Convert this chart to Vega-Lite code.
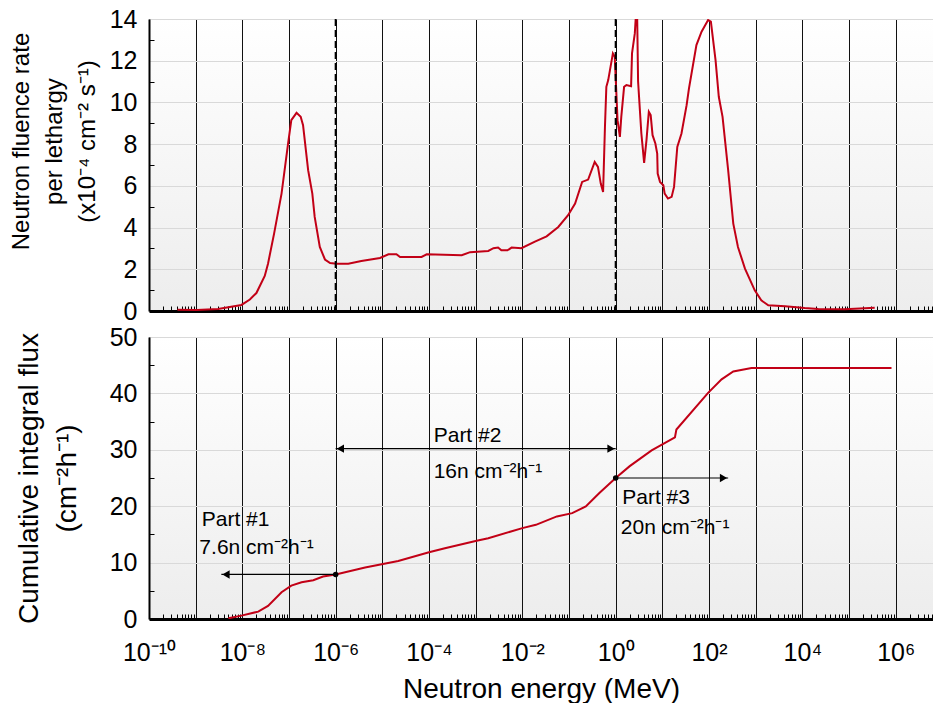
{
  "$schema": "https://vega.github.io/schema/vega-lite/v6.json",
  "padding": {"left": 9, "top": 7, "right": 0, "bottom": 0},
  "background": "white",
  "spacing": 1,
  "config": {
    "font": "Liberation Sans",
    "view": {"stroke": null, "fill": {"gradient": "linear", "x1": 0, "y1": 0, "x2": 0, "y2": 1, "stops": [{"offset": 0, "color": "#ffffff"}, {"offset": 1, "color": "#ededed"}]}},
    "axis": {"labelFont": "Liberation Sans", "titleFont": "Liberation Sans", "labelColor": "#000", "titleColor": "#000", "titleFontWeight": "normal", "domainColor": "#000", "tickColor": "#000"}
  },
  "datasets": {
    "top": [
      {"E": 4.07e-10, "v": 0.06}, {"E": 1.05e-9, "v": 0.05}, {"E": 3.02e-9, "v": 0.1}, {"E": 9.55e-9, "v": 0.29},
      {"E": 1.45e-8, "v": 0.55}, {"E": 2.0e-8, "v": 0.86}, {"E": 3.02e-8, "v": 1.68}, {"E": 3.55e-8, "v": 2.27},
      {"E": 4.79e-8, "v": 3.71}, {"E": 6.92e-8, "v": 5.63}, {"E": 9.55e-8, "v": 8.03}, {"E": 1.12e-7, "v": 9.15},
      {"E": 1.45e-7, "v": 9.5}, {"E": 1.78e-7, "v": 9.31}, {"E": 2.0e-7, "v": 8.91}, {"E": 2.57e-7, "v": 6.75},
      {"E": 3.16e-7, "v": 5.63}, {"E": 3.55e-7, "v": 4.51}, {"E": 4.57e-7, "v": 3.07}, {"E": 5.89e-7, "v": 2.47},
      {"E": 7.59e-7, "v": 2.30}, {"E": 1.05e-6, "v": 2.27}, {"E": 1.86e-6, "v": 2.27}, {"E": 3.55e-6, "v": 2.40},
      {"E": 8.91e-6, "v": 2.54}, {"E": 1.35e-5, "v": 2.72}, {"E": 2.0e-5, "v": 2.72}, {"E": 2.4e-5, "v": 2.59},
      {"E": 6.92e-5, "v": 2.59}, {"E": 8.91e-5, "v": 2.72}, {"E": 5.01e-4, "v": 2.67}, {"E": 7.59e-4, "v": 2.82},
      {"E": 1.86e-3, "v": 2.88}, {"E": 2.4e-3, "v": 3.01}, {"E": 3.02e-3, "v": 3.04}, {"E": 3.55e-3, "v": 2.91},
      {"E": 4.79e-3, "v": 2.91}, {"E": 5.89e-3, "v": 3.04}, {"E": 9.55e-3, "v": 3.01}, {"E": 1.86e-2, "v": 3.33},
      {"E": 3.31e-2, "v": 3.58}, {"E": 5.89e-2, "v": 4.03}, {"E": 9.55e-2, "v": 4.59}, {"E": 0.135, "v": 5.15},
      {"E": 0.191, "v": 6.19}, {"E": 0.257, "v": 6.30}, {"E": 0.355, "v": 7.15}, {"E": 0.417, "v": 6.91},
      {"E": 0.479, "v": 6.11}, {"E": 0.537, "v": 5.71}, {"E": 0.589, "v": 8.83}, {"E": 0.631, "v": 10.75},
      {"E": 0.692, "v": 11.07}, {"E": 0.871, "v": 12.35}, {"E": 0.955, "v": 12.19}, {"E": 1.096, "v": 9.15},
      {"E": 1.23, "v": 8.35}, {"E": 1.318, "v": 9.31}, {"E": 1.514, "v": 10.75}, {"E": 1.698, "v": 10.83},
      {"E": 2.138, "v": 10.78}, {"E": 2.239, "v": 12.35}, {"E": 2.57, "v": 13.31}, {"E": 2.85, "v": 15.0},
      {"E": 3.02, "v": 11.0}, {"E": 3.55, "v": 8.51}, {"E": 4.07, "v": 7.10}, {"E": 4.57, "v": 8.19},
      {"E": 5.13, "v": 9.55}, {"E": 5.62, "v": 9.39}, {"E": 6.17, "v": 8.43}, {"E": 7.08, "v": 8.03},
      {"E": 7.76, "v": 7.55}, {"E": 7.94, "v": 6.59}, {"E": 8.91, "v": 6.19}, {"E": 10.5, "v": 6.03},
      {"E": 11.2, "v": 5.63}, {"E": 13.2, "v": 5.39}, {"E": 15.8, "v": 5.47}, {"E": 17.8, "v": 5.95},
      {"E": 20.9, "v": 7.87}, {"E": 25.7, "v": 8.51}, {"E": 33.1, "v": 9.87}, {"E": 37.2, "v": 10.67},
      {"E": 53.7, "v": 12.75}, {"E": 69.2, "v": 13.39}, {"E": 95.5, "v": 13.95}, {"E": 109.6, "v": 13.87},
      {"E": 138, "v": 12.03}, {"E": 162, "v": 10.27}, {"E": 195, "v": 9.31}, {"E": 257, "v": 6.75},
      {"E": 331, "v": 4.19}, {"E": 417, "v": 3.07}, {"E": 589, "v": 2.03}, {"E": 955, "v": 0.99},
      {"E": 1318, "v": 0.51}, {"E": 1862, "v": 0.27}, {"E": 4266, "v": 0.23}, {"E": 11220, "v": 0.14},
      {"E": 21880, "v": 0.10}, {"E": 81280, "v": 0.08}, {"E": 354800, "v": 0.16}
    ],
    "bottom": [
      {"E": 5.01e-9, "v": 0.12}, {"E": 9.55e-9, "v": 0.6}, {"E": 2.19e-8, "v": 1.31}, {"E": 3.55e-8, "v": 2.31},
      {"E": 6.92e-8, "v": 4.74}, {"E": 1.12e-7, "v": 5.93}, {"E": 1.86e-7, "v": 6.52}, {"E": 3.31e-7, "v": 6.88},
      {"E": 5.37e-7, "v": 7.53}, {"E": 1.0e-6, "v": 7.9}, {"E": 4.27e-6, "v": 9.13}, {"E": 2.19e-5, "v": 10.30},
      {"E": 1.0e-4, "v": 11.85}, {"E": 2.19e-4, "v": 12.56}, {"E": 1.05e-3, "v": 13.86}, {"E": 1.86e-3, "v": 14.33},
      {"E": 1.0e-2, "v": 16.11}, {"E": 1.95e-2, "v": 16.70}, {"E": 5.5e-2, "v": 18.19}, {"E": 0.117, "v": 18.77},
      {"E": 0.229, "v": 19.96}, {"E": 0.447, "v": 22.33}, {"E": 1.0, "v": 25.0}, {"E": 2.0, "v": 27.1},
      {"E": 5.89, "v": 29.9}, {"E": 18.6, "v": 32.2}, {"E": 20.0, "v": 33.6}, {"E": 95.5, "v": 40.1},
      {"E": 186, "v": 42.5}, {"E": 331, "v": 43.9}, {"E": 813, "v": 44.5}, {"E": 813000, "v": 44.5}
    ],
    "dividers": [{"E": 1e-6}, {"E": 1}],
    "dots": [{"E": 1e-6, "v": 7.9}, {"E": 1, "v": 25.0}],
    "arrows": [
      {"E": 1e-6, "E2": 3.55e-9, "v": 7.9},
      {"E": 1e-6, "E2": 1, "v": 30.2},
      {"E": 1, "E2": 257, "v": 25.0}
    ],
    "heads": [
      {"E": 4.47e-9, "v": 7.9, "dir": "left"},
      {"E": 1.26e-6, "v": 30.2, "dir": "left"},
      {"E": 0.794, "v": 30.2, "dir": "right"},
      {"E": 204, "v": 25.0, "dir": "right"}
    ],
    "notes": [
      {"E": 1.35e-9, "v": 17.5, "label": "Part #1"},
      {"E": 1.2e-9, "v": 12.6, "label": "7.6n cm⁻²h⁻¹"},
      {"E": 1.26e-4, "v": 32.5, "label": "Part #2"},
      {"E": 1.26e-4, "v": 26.0, "label": "16n cm⁻²h⁻¹"},
      {"E": 1.38, "v": 21.5, "label": "Part #3"},
      {"E": 1.29, "v": 16.2, "label": "20n cm⁻²h⁻¹"}
    ]
  },
  "vconcat": [
    {
      "width": 784,
      "height": 292,
      "encoding": {
        "x": {"field": "E", "type": "quantitative",
          "scale": {"type": "log", "domain": [1e-10, 6.3e6]},
          "axis": {
            "values": [1e-10,2e-10,3e-10,4e-10,5e-10,6e-10,7e-10,8e-10,9e-10,1e-9,2e-9,3e-9,4e-9,5e-9,6e-9,7e-9,8e-9,9e-9,1e-8,2e-8,3e-8,4e-8,5e-8,6e-8,7e-8,8e-8,9e-8,1e-7,2e-7,3e-7,4e-7,5e-7,6e-7,7e-7,8e-7,9e-7,1e-6,2e-6,3e-6,4e-6,5e-6,6e-6,7e-6,8e-6,9e-6,1e-5,2e-5,3e-5,4e-5,5e-5,6e-5,7e-5,8e-5,9e-5,1e-4,2e-4,3e-4,4e-4,5e-4,6e-4,7e-4,8e-4,9e-4,1e-3,2e-3,3e-3,4e-3,5e-3,6e-3,7e-3,8e-3,9e-3,1e-2,2e-2,3e-2,4e-2,5e-2,6e-2,7e-2,8e-2,9e-2,0.1,0.2,0.3,0.4,0.5,0.6,0.7,0.8,0.9,1,2,3,4,5,6,7,8,9,10,20,30,40,50,60,70,80,90,100,200,300,400,500,600,700,800,900,1e3,2e3,3e3,4e3,5e3,6e3,7e3,8e3,9e3,1e4,2e4,3e4,4e4,5e4,6e4,7e4,8e4,9e4,1e5,2e5,3e5,4e5,5e5,6e5,7e5,8e5,9e5,1e6,2e6,3e6,4e6,5e6,6e6],
            "title": null, "labels": false,
            "grid": true, "gridColor": "#111", "gridWidth": 1,
            "gridOpacity": {"condition": {"test": "abs(log(datum.value)/LN10 - round(log(datum.value)/LN10)) < 0.001", "value": 1}, "value": 0},
            "tickOpacity": {"condition": {"test": "abs(log(datum.value)/LN10 - round(log(datum.value)/LN10)) < 0.001", "value": 0}, "value": 1},
            "tickSize": -5, "tickWidth": 1, "domainWidth": 3
          }},
        "y": {"field": "v", "type": "quantitative",
          "scale": {"domain": [0, 14]},
          "axis": {
            "values": [0,1,2,3,4,5,6,7,8,9,10,11,12,13,14],
            "title": ["Neutron fluence rate", "per lethargy", "(x10⁻⁴ cm⁻² s⁻¹)"],
            "titleFontSize": 24, "titleLineHeight": 33, "titlePadding": 10, "titleY": 122,
            "labelExpr": "datum.value % 2 == 0 ? datum.label : ''",
            "labelFontSize": 25, "labelPadding": 17, "labelOverlap": false,
            "grid": true, "gridColor": "#d9d9d9",
            "gridOpacity": {"condition": {"test": "datum.value % 2 == 0", "value": 1}, "value": 0},
            "tickOpacity": {"condition": {"test": "datum.value % 2 == 0", "value": 0}, "value": 1},
            "tickSize": -5, "domainWidth": 2
          }}
      },
      "layer": [
        {"data": {"name": "top"}, "mark": {"type": "line", "color": "#c20016", "strokeWidth": 2, "clip": true}},
        {"data": {"name": "dividers"}, "mark": {"type": "rule", "color": "#000", "strokeWidth": 2, "strokeDash": [7, 4]}, "encoding": {"y": null}}
      ]
    },
    {
      "width": 784,
      "height": 282,
      "encoding": {
        "x": {"field": "E", "type": "quantitative",
          "scale": {"type": "log", "domain": [1e-10, 6.3e6]},
          "axis": {
            "values": [1e-10,2e-10,3e-10,4e-10,5e-10,6e-10,7e-10,8e-10,9e-10,1e-9,2e-9,3e-9,4e-9,5e-9,6e-9,7e-9,8e-9,9e-9,1e-8,2e-8,3e-8,4e-8,5e-8,6e-8,7e-8,8e-8,9e-8,1e-7,2e-7,3e-7,4e-7,5e-7,6e-7,7e-7,8e-7,9e-7,1e-6,2e-6,3e-6,4e-6,5e-6,6e-6,7e-6,8e-6,9e-6,1e-5,2e-5,3e-5,4e-5,5e-5,6e-5,7e-5,8e-5,9e-5,1e-4,2e-4,3e-4,4e-4,5e-4,6e-4,7e-4,8e-4,9e-4,1e-3,2e-3,3e-3,4e-3,5e-3,6e-3,7e-3,8e-3,9e-3,1e-2,2e-2,3e-2,4e-2,5e-2,6e-2,7e-2,8e-2,9e-2,0.1,0.2,0.3,0.4,0.5,0.6,0.7,0.8,0.9,1,2,3,4,5,6,7,8,9,10,20,30,40,50,60,70,80,90,100,200,300,400,500,600,700,800,900,1e3,2e3,3e3,4e3,5e3,6e3,7e3,8e3,9e3,1e4,2e4,3e4,4e4,5e4,6e4,7e4,8e4,9e4,1e5,2e5,3e5,4e5,5e5,6e5,7e5,8e5,9e5,1e6,2e6,3e6,4e6,5e6,6e6],
            "title": "Neutron energy (MeV)", "titleFontSize": 28, "titlePadding": 10,
            "labelExpr": "(abs(log(datum.value)/LN10 - round(log(datum.value)/LN10)) > 0.001 || round(log(datum.value)/LN10) % 2 != 0) ? '' : '10' + ['⁻¹⁰','','⁻⁸','','⁻⁶','','⁻⁴','','⁻²','','⁰','','²','','⁴','','⁶'][round(log(datum.value)/LN10) + 10]",
            "labelFontSize": 25, "labelPadding": 26, "labelOverlap": false, "labelFlush": false,
            "grid": true, "gridColor": "#111", "gridWidth": 1,
            "gridOpacity": {"condition": {"test": "abs(log(datum.value)/LN10 - round(log(datum.value)/LN10)) < 0.001", "value": 1}, "value": 0},
            "tickOpacity": {"condition": {"test": "abs(log(datum.value)/LN10 - round(log(datum.value)/LN10)) < 0.001", "value": 0}, "value": 1},
            "tickSize": -5, "tickWidth": 1, "domainWidth": 3
          }},
        "y": {"field": "v", "type": "quantitative",
          "scale": {"domain": [0, 50]},
          "axis": {
            "values": [0,5,10,15,20,25,30,35,40,45,50],
            "title": ["Cumulative integral flux", "(cm⁻²h⁻¹)"],
            "titleFontSize": 28, "titleLineHeight": 38, "titlePadding": 28,
            "labelExpr": "datum.value % 10 == 0 ? datum.label : ''",
            "labelFontSize": 25, "labelPadding": 17, "labelOverlap": false,
            "grid": true, "gridColor": "#d9d9d9",
            "gridOpacity": {"condition": {"test": "datum.value % 10 == 0", "value": 1}, "value": 0},
            "tickOpacity": {"condition": {"test": "datum.value % 10 == 0", "value": 0}, "value": 1},
            "tickSize": -5, "domainWidth": 2
          }}
      },
      "layer": [
        {"data": {"name": "bottom"}, "mark": {"type": "line", "color": "#c20016", "strokeWidth": 2, "clip": true}},
        {"data": {"name": "dividers"}, "mark": {"type": "rule", "color": "#000", "strokeWidth": 2, "strokeDash": [7, 4], "clip": false},
          "encoding": {"y": {"datum": 0}, "y2": {"datum": 55}}},
        {"data": {"name": "arrows"}, "mark": {"type": "rule", "color": "#000", "strokeWidth": 1.2},
          "encoding": {"x2": {"field": "E2"}}},
        {"data": {"name": "heads"}, "mark": {"type": "point", "filled": true, "color": "#000", "size": 70, "opacity": 1},
          "encoding": {"shape": {"field": "dir", "type": "nominal", "scale": {"domain": ["left", "right"], "range": ["triangle-left", "triangle-right"]}, "legend": null}}},
        {"data": {"name": "dots"}, "mark": {"type": "point", "filled": true, "shape": "circle", "color": "#000", "size": 30, "opacity": 1}},
        {"data": {"name": "notes"}, "mark": {"type": "text", "align": "left", "baseline": "middle", "fontSize": 21, "color": "#000"},
          "encoding": {"text": {"field": "label"}}}
      ]
    }
  ]
}
